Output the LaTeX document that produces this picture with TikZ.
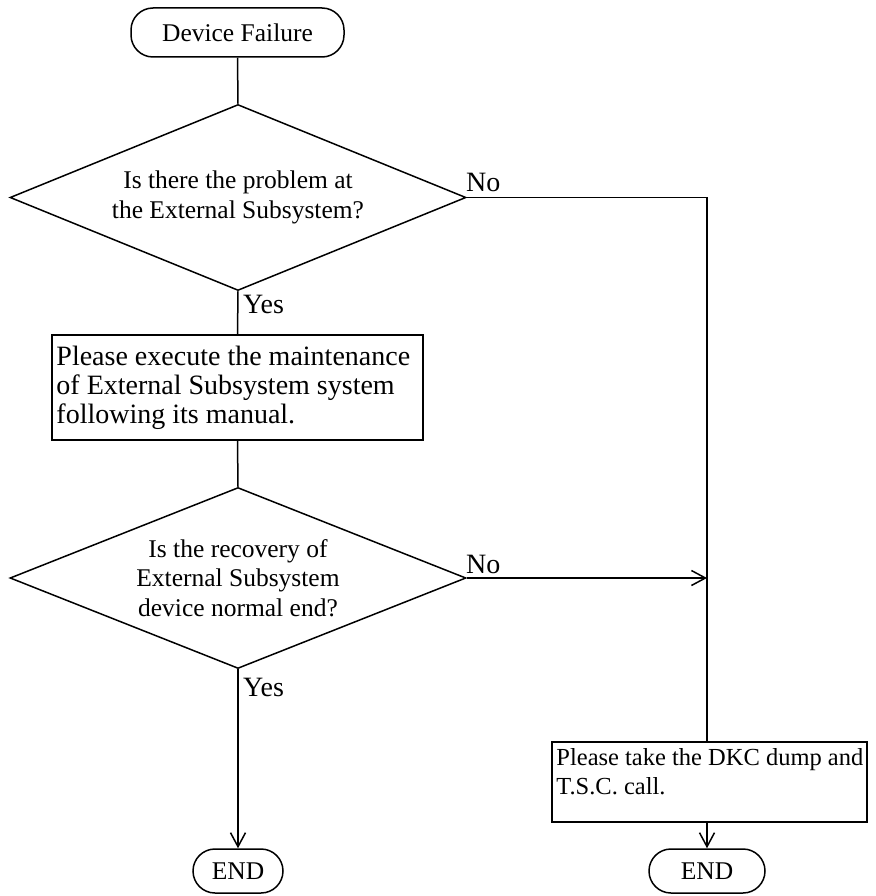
\documentclass[tikz,border=0pt]{standalone}
\usepackage{fontspec}
\setmainfont{Liberation Serif}
\usetikzlibrary{shapes.geometric,arrows.meta}

\begin{document}
\begin{tikzpicture}[x=1pt,y=-1pt,
  every node/.style={font=\fontsize{25.5pt}{29.5pt}\selectfont, inner sep=0pt},
  conn/.style={line width=1.5pt},
  flow/.style={conn, -{Straight Barb[length=14pt,width=15pt,line width=1.5pt]}},
  terminal/.style={draw, line width=1.5pt, rectangle, rounded corners=22pt},
  decision/.style={draw, line width=1.5pt, diamond, aspect=2.5,
    minimum width=456pt, minimum height=186pt, align=center},
  process/.style={draw, line width=1.5pt, rectangle},
  proctext/.style={anchor=west, align=left},
  label/.style={anchor=base west, font=\fontsize{28pt}{30pt}\selectfont}
]
\useasboundingbox (0,0) rectangle (875,896);

% terminals
\node[terminal, minimum width=213pt, minimum height=49pt] (start) at (237.5,32.5) {Device Failure};
\node[terminal, minimum width=90pt, minimum height=44pt] (end1) at (238,871) {END};
\node[terminal, minimum width=116pt, minimum height=44pt] (end2) at (707,871) {END};

% decisions
\node[decision] (d1) at (238,197.5) {Is there the problem at\\the External Subsystem?};
\node[decision, minimum height=181pt] (d2) at (238,578) {Is the recovery of\\External Subsystem\\device normal end?};

% process boxes, with their texts set flush left inside
\node[process, minimum width=371pt, minimum height=105pt] (p1) at (237.5,387.5) {};
\node[proctext, font=\fontsize{28pt}{29pt}\selectfont] (t1) at ([xshift=5pt]p1.west)
  {Please execute the maintenance\\of External Subsystem system\\following its manual.};
\node[process, minimum width=315pt, minimum height=80pt] (p2) at (709.5,782) {};
\node[proctext, font=\fontsize{24.5pt}{29pt}\selectfont] (t2) at ([xshift=5pt,yshift=10pt]p2.west)
  {Please take the DKC dump and\\T.S.C. call.};

% branch labels
\node[label] (no1) at (466,192) {No};
\node[label] (yes1) at (243,313) {Yes};
\node[label] (no2) at (466,573) {No};
\node[label] (yes2) at (243,696) {Yes};

% junction column on the right
\coordinate (jn) at (707,197.5);

% connectors
\draw[conn] (start.south) -- (d1.north);
\draw[conn] (d1.south) -- (p1.north);
\draw[conn] (p1.south) -- (d2.north);
\draw[flow] (d2.south) -- (end1.north);
\draw[conn] (d1.east) -- (jn) -- (jn |- p2.north);
\draw[flow] (d2.east) -- (jn |- d2.east);
\draw[flow] (jn |- p2.south) -- (end2.north);
\end{tikzpicture}
\end{document}
